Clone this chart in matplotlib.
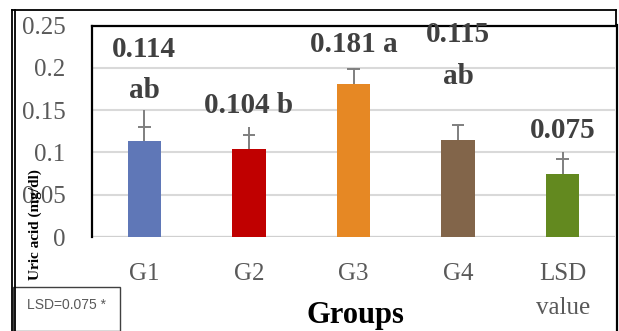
"""Uric acid by group, bar chart with error bars and significance letters."""

import matplotlib.pyplot as plt
from matplotlib.lines import Line2D
from matplotlib.patches import Rectangle

groups = ["G1", "G2", "G3", "G4", "LSD\nvalue"]
uric_acid = [0.114, 0.104, 0.181, 0.115, 0.075]
error_top = [0.150, 0.130, 0.200, 0.132, 0.100]
cap_level = [0.130, 0.121, 0.198, 0.132, 0.092]
bar_colors = ["#5f77b7", "#c00000", "#e68824", "#82654a", "#63891f"]

# label text and where it sits (y in data units)
label_lines = [
    [("0.114", 0.222), ("ab", 0.173)],
    [("0.104 b", 0.155)],
    [("0.181 a", 0.228)],
    [("0.115", 0.239), ("ab", 0.190)],
    [("0.075", 0.126)],
]

W, H = 619, 331
SERIF = ["Liberation Serif", "DejaVu Serif"]

fig = plt.figure(figsize=(W / 100, H / 100), dpi=100)
ax = fig.add_axes([92 / W, 1 - 237 / H, (615 - 92) / W, (237 - 25.5) / H])

x = range(len(groups))
ax.bar(x, uric_acid, width=0.32, color=bar_colors, zorder=3)

err_color = "#7f7f7f"
for i, (v, top, cap) in enumerate(zip(uric_acid, error_top, cap_level)):
    ax.vlines(i, v, top, color=err_color, linewidth=1.4, zorder=4)
    ax.hlines(cap, i - 0.06, i + 0.06, color=err_color, linewidth=1.4, zorder=4)

for i, lines in enumerate(label_lines):
    for txt, ypos in lines:
        ax.text(i, ypos, txt, ha="center", va="center", fontsize=21,
                fontweight="bold", family=SERIF, color="#404040", zorder=5)

ax.set_xlim(-0.5, len(groups) - 0.5)
ax.set_ylim(0, 0.25)
ax.set_yticks([0, 0.05, 0.1, 0.15, 0.2, 0.25])
ax.set_yticklabels(["0", "0.05", "0.1", "0.15", "0.2", "0.25"])
ax.set_xticks(list(x))
ax.set_xticklabels(groups, linespacing=1.7)
ax.tick_params(axis="both", length=0, labelsize=18, colors="#595959")
ax.tick_params(axis="x", pad=19)
ax.tick_params(axis="y", pad=19)
for lab in ax.get_xticklabels() + ax.get_yticklabels():
    lab.set_family(SERIF)
ax.yaxis.grid(True, color="#d9d9d9", linewidth=1.5, zorder=0)
ax.set_axisbelow(True)

for side in ["right", "bottom"]:
    ax.spines[side].set_visible(False)
ax.spines["left"].set_linewidth(1.6)
ax.spines["top"].set_linewidth(1.6)
ax.axhline(0, color="#d0d0d0", linewidth=1.6, zorder=2)

ax.set_ylabel("Uric acid (mg/dl)", fontsize=11, fontweight="bold", family=SERIF,
              color="black")
ax.yaxis.set_label_coords(-50 / 523, 0.06)

fig.text(355 / W, 1 - 315 / H, "Groups", ha="center", va="center", fontsize=22,
         fontweight="bold", family=SERIF, color="black")

# outer chart frame lines
def px_line(x0, y0, x1, y1, lw=1.3, color="black"):
    fig.add_artist(Line2D([x0 / W, x1 / W], [1 - y0 / H, 1 - y1 / H],
                          color=color, linewidth=lw))

px_line(12, 10, 12, 331)
px_line(15, 10, 15, 331)
px_line(12, 10, 616, 10)
px_line(616, 10, 616, 25)
px_line(617, 25, 617, 331, lw=1.6)

fig.add_artist(Rectangle((13 / W, 0), (120 - 13) / W, (331 - 287) / H,
                         transform=fig.transFigure, facecolor="white",
                         edgecolor="#404040", linewidth=1.0))
fig.text(27 / W, 1 - 305 / H, "LSD=0.075 *", ha="left", va="center",
         fontsize=10, color="#595959", family=["Liberation Sans", "DejaVu Sans"])

fig.savefig("out.png", dpi=100)
